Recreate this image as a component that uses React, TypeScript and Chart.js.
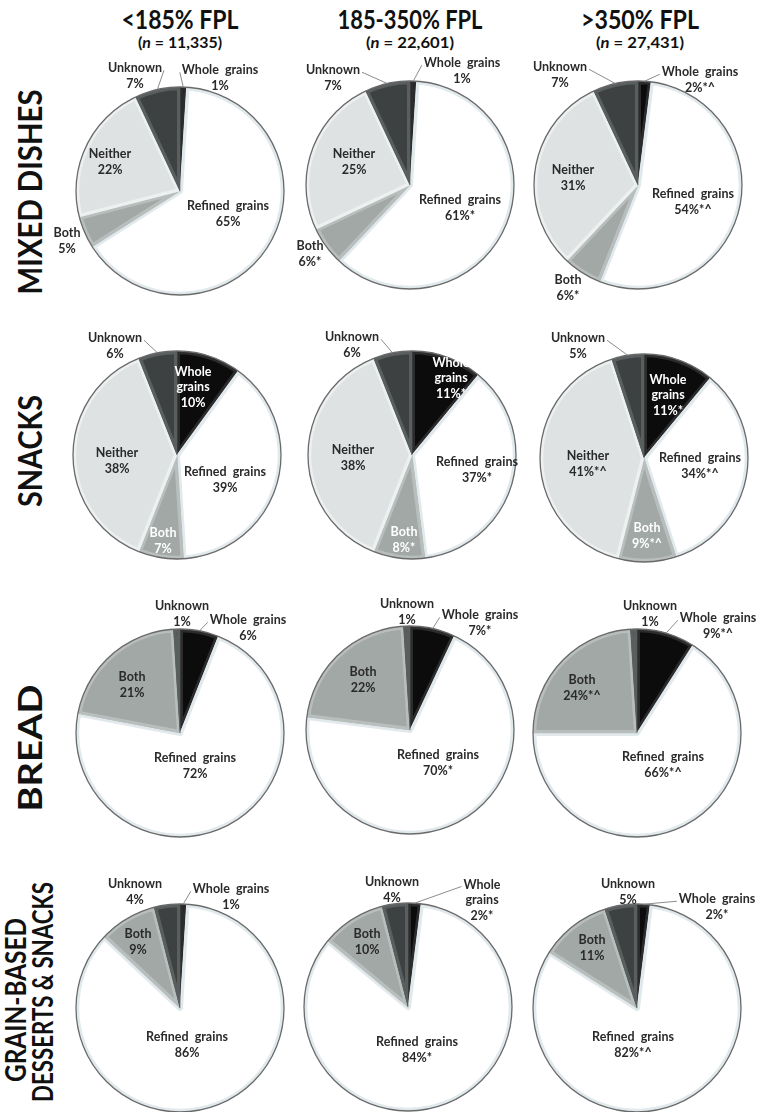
import React, { useEffect, useRef } from "react";
import { Chart, registerables } from "chart.js";

Chart.register(...registerables);

// ---------------- data ----------------
const INCOME_GROUPS = ["<185% FPL", "185-350% FPL", ">350% FPL"];
const SAMPLE_SIZES = ["11,335", "22,601", "27,431"];
const FOOD_GROUPS = ["MIXED DISHES", "SNACKS", "BREAD", "GRAIN-BASED", "DESSERTS & SNACKS"];
const CATEGORIES = ["Whole grains", "Refined grains", "Both", "Neither", "Unknown"];

// percentages per income group: [Whole, Refined, Both, Neither, Unknown]
const MIXED_DISHES = [
  [1, 65, 5, 22, 7],
  [1, 61, 6, 25, 7],
  [2, 54, 6, 31, 7],
];
const MIXED_DISHES_MARKS = [
  ["", "", "", "", ""],
  ["", "*", "*", "", ""],
  ["*^", "*^", "*", "", ""],
];
const SNACKS = [
  [10, 39, 7, 38, 6],
  [11, 37, 8, 38, 6],
  [11, 34, 9, 41, 5],
];
const SNACKS_MARKS = [
  ["", "", "", "", ""],
  ["*", "*", "*", "", ""],
  ["*", "*^", "*^", "*^", ""],
];
const BREAD = [
  [6, 72, 21, 0, 1],
  [7, 70, 22, 0, 1],
  [9, 66, 24, 0, 1],
];
const BREAD_MARKS = [
  ["", "", "", "", ""],
  ["*", "*", "", "", ""],
  ["*^", "*^", "*^", "", ""],
];
const DESSERTS = [
  [1, 86, 9, 0, 4],
  [2, 84, 10, 0, 4],
  [2, 82, 11, 0, 5],
];
const DESSERTS_MARKS = [
  ["", "", "", "", ""],
  ["*", "*", "", "", ""],
  ["*", "*^", "", "", ""],
];

const ROW_VALUES = [MIXED_DISHES, SNACKS, BREAD, DESSERTS];
const ROW_MARKS = [MIXED_DISHES_MARKS, SNACKS_MARKS, BREAD_MARKS, DESSERTS_MARKS];

// ---------------- styles / layout ----------------
const FILL = ["#0c0c0c", "#ffffff", "#a1a8a6", "#dee2e2", "#3d4141"];
const BEVEL = ["#2c2c2c", "#e1e9ec", "#b8bebc", "#edf0f0", "#595e5e"];
const RING = "#6a6a6a";
const LEADER = "#8c8c8c";
const TEXT = "#2a2a2a";
const FONT = "Lato, 'Open Sans', sans-serif";
const LABEL_FONT = `bold 12.5px ${FONT}`;
const LINE_H = 15.5;
const PIE_RADIUS = 104;
const CANVAS = 330;

const PANEL_CENTERS = [
  [[180, 191], [410, 185], [638, 185]],
  [[177, 455], [412, 455], [644, 458]],
  [[180, 733], [410, 730], [637, 733]],
  [[180, 1008], [408, 1007], [637, 1008]],
];

type LabelStyle = { dx: number; dy: number; split?: boolean; light?: boolean; leader?: "left" | "right" } | null;

// label offsets relative to the pie centre, per slice [Whole, Refined, Both, Neither, Unknown]
const LABEL_LAYOUT: LabelStyle[][][] = [
  [
    [{ dx: 40, dy: -113, leader: "left" }, { dx: 48, dy: 23 }, { dx: -113, dy: 50 }, { dx: -70, dy: -29 }, { dx: -45, dy: -115, leader: "right" }],
    [{ dx: 52, dy: -114, leader: "left" }, { dx: 50, dy: 23 }, { dx: -100, dy: 69 }, { dx: -56, dy: -23 }, { dx: -77, dy: -107, leader: "right" }],
    [{ dx: 62, dy: -105, leader: "left" }, { dx: 55, dy: 17 }, { dx: -70, dy: 103 }, { dx: -65, dy: -7 }, { dx: -78, dy: -110, leader: "right" }],
  ],
  [
    [{ dx: 16, dy: -68, split: true, light: true }, { dx: 48, dy: 25 }, { dx: -14, dy: 86, light: true }, { dx: -60, dy: 6 }, { dx: -62, dy: -109, leader: "right" }],
    [{ dx: 39, dy: -77, split: true, light: true }, { dx: 65, dy: 15 }, { dx: -8, dy: 85, light: true }, { dx: -59, dy: 3 }, { dx: -60, dy: -110, leader: "right" }],
    [{ dx: 24, dy: -63, split: true, light: true }, { dx: 56, dy: 8 }, { dx: 3, dy: 78, light: true }, { dx: -56, dy: 6 }, { dx: -66, dy: -112, leader: "right" }],
  ],
  [
    [{ dx: 68, dy: -105, leader: "left" }, { dx: 15, dy: 33 }, { dx: -48, dy: -48 }, null, { dx: 2, dy: -119 }],
    [{ dx: 70, dy: -107, leader: "left" }, { dx: 28, dy: 33 }, { dx: -47, dy: -50 }, null, { dx: -3, dy: -118 }],
    [{ dx: 81, dy: -107, leader: "left" }, { dx: 26, dy: 32 }, { dx: -55, dy: -45 }, null, { dx: 13, dy: -119 }],
  ],
  [
    [{ dx: 51, dy: -111, leader: "left" }, { dx: 7, dy: 37 }, { dx: -42, dy: -66 }, null, { dx: -45, dy: -116 }],
    [{ dx: 74, dy: -107, leader: "left", split: true }, { dx: 9, dy: 43 }, { dx: -41, dy: -65 }, null, { dx: -16, dy: -117 }],
    [{ dx: 80, dy: -101, leader: "left" }, { dx: -4, dy: 37 }, { dx: -45, dy: -60 }, null, { dx: -9, dy: -116 }],
  ],
];

function makeDecor(values: number[], marks: string[], layout: LabelStyle[]) {
  return {
    id: "pieDecor",
    afterDatasetsDraw(chart: any) {
      const arcs = chart.getDatasetMeta(0).data as any[];
      if (!arcs.length) return;
      const { x, y, outerRadius } = arcs[0].getProps(["x", "y", "outerRadius"], true);
      const ctx = chart.ctx as CanvasRenderingContext2D;
      ctx.save();
      ctx.beginPath();
      ctx.arc(x, y, outerRadius, 0, Math.PI * 2);
      ctx.strokeStyle = RING;
      ctx.lineWidth = 1.3;
      ctx.stroke();

      ctx.font = LABEL_FONT;
      ctx.textAlign = "center";
      ctx.textBaseline = "middle";
      arcs.forEach((arc, i) => {
        const st = layout[i];
        if (!st || !values[i]) return;
        const name = CATEGORIES[i];
        const val = `${values[i]}%${marks[i]}`;
        const lines = st.split ? [...name.split(/\s+/), val] : [name.replace(" ", "  "), val];
        const lx = x + st.dx;
        const ly = y + st.dy;
        const top = ly - ((lines.length - 1) * LINE_H) / 2;
        if (st.leader) {
          const { startAngle, endAngle } = arc.getProps(["startAngle", "endAngle"], true);
          const mid = (startAngle + endAngle) / 2;
          const px = x + Math.cos(mid) * outerRadius;
          const py = y + Math.sin(mid) * outerRadius;
          const w = ctx.measureText(lines[0]).width;
          const ex = st.leader === "left" ? lx - w / 2 - 2 : lx + w / 2 + 2;
          const ey = top + 2;
          ctx.beginPath();
          ctx.moveTo(px, py);
          ctx.lineTo(ex, ey);
          ctx.strokeStyle = LEADER;
          ctx.lineWidth = 1;
          ctx.stroke();
        }
        ctx.fillStyle = st.light ? "#ffffff" : TEXT;
        lines.forEach((t, k) => ctx.fillText(t, lx, top + k * LINE_H));
      });
      ctx.restore();
    },
  };
}

function PiePanel({ row, col }: { row: number; col: number }) {
  const ref = useRef<HTMLCanvasElement>(null);
  const [cx, cy] = PANEL_CENTERS[row][col];
  useEffect(() => {
    const values = ROW_VALUES[row][col];
    const marks = ROW_MARKS[row][col];
    const chart = new Chart(ref.current as HTMLCanvasElement, {
      type: "pie",
      data: {
        labels: CATEGORIES,
        datasets: [
          {
            data: values,
            backgroundColor: FILL,
            borderColor: BEVEL,
            borderWidth: 3,
            borderAlign: "inner",
            hoverOffset: 0,
            offset: 0,
          } as any,
        ],
      },
      options: {
        responsive: false,
        animation: false,
        radius: PIE_RADIUS,
        layout: { padding: 0 },
        events: [],
        plugins: {
          legend: { display: false },
          tooltip: { enabled: false },
          title: { display: false },
        },
      } as any,
      plugins: [makeDecor(values, marks, LABEL_LAYOUT[row][col])],
    });
    return () => chart.destroy();
  }, [row, col]);
  return (
    <canvas
      ref={ref}
      width={CANVAS}
      height={CANVAS}
      style={{ position: "absolute", left: cx - CANVAS / 2, top: cy - CANVAS / 2, width: CANVAS, height: CANVAS }}
    />
  );
}

const HEADER_X = [180, 410, 640];
const HEADER_LEN = [117, 145, 118];
const SUB_LEN = [84, 88, 88];

const ROW_LABELS = [
  { text: FOOD_GROUPS[0], x: 30, y: 192, size: 33, len: 205 },
  { text: FOOD_GROUPS[1], x: 30, y: 451, size: 33, len: 112 },
  { text: FOOD_GROUPS[2], x: 30, y: 748, size: 33, len: 127 },
  { text: FOOD_GROUPS[3], x: 16, y: 1000, size: 29, len: 164 },
  { text: FOOD_GROUPS[4], x: 43, y: 992, size: 29, len: 220 },
];

export default function App() {
  const panels: React.ReactNode[] = [];
  for (let r = 0; r < 4; r++) for (let c = 0; c < 3; c++) panels.push(<PiePanel key={`${r}-${c}`} row={r} col={c} />);
  return (
    <div style={{ position: "absolute", left: 0, top: 0, width: 758, height: 1112, overflow: "hidden", background: "#ffffff" }}>
      <svg width={758} height={1112} style={{ position: "absolute", left: 0, top: 0 }} fontFamily={FONT}>
        {INCOME_GROUPS.map((g, i) => (
          <g key={g}>
            <text x={HEADER_X[i]} y={20 + 0.36 * 26} fontSize={26} fontWeight="bold" textAnchor="middle" fill="#111" textLength={HEADER_LEN[i]} lengthAdjust="spacingAndGlyphs">
              {g}
            </text>
            <text x={HEADER_X[i]} y={42 + 0.36 * 16} fontSize={16} fontWeight="bold" textAnchor="middle" fill="#111" textLength={SUB_LEN[i]} lengthAdjust="spacingAndGlyphs">
              (<tspan fontStyle="italic">n</tspan> = {SAMPLE_SIZES[i]})
            </text>
          </g>
        ))}
        {ROW_LABELS.map((l) => (
          <text
            key={l.text}
            transform={`translate(${l.x},${l.y}) rotate(-90)`}
            x={0}
            y={0.36 * l.size}
            fontSize={l.size}
            fontWeight="bold"
            textAnchor="middle"
            fill="#111"
            textLength={l.len}
            lengthAdjust="spacingAndGlyphs"
          >
            {l.text}
          </text>
        ))}
      </svg>
      {panels}
    </div>
  );
}
